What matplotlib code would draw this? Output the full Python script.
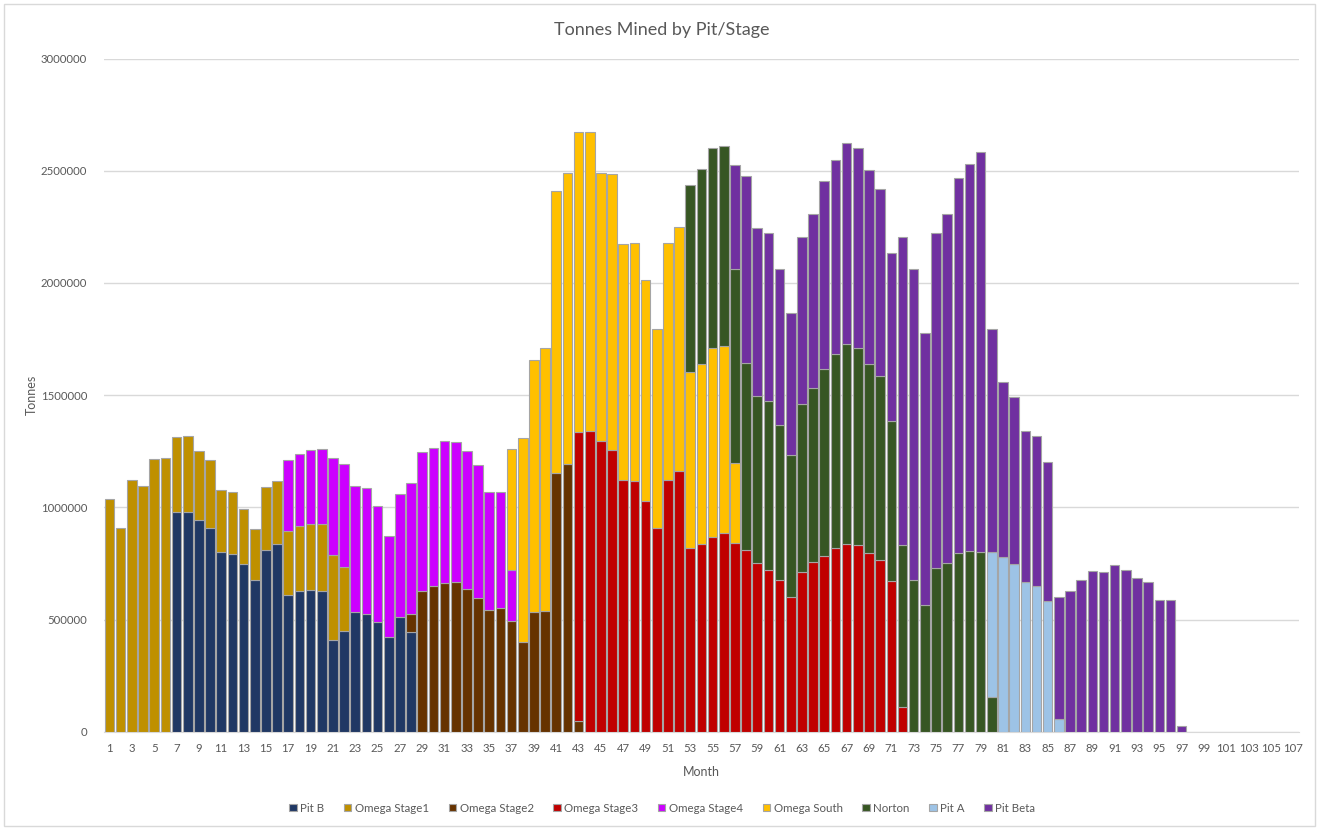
import numpy as np
import matplotlib.pyplot as plt
from matplotlib.patches import Rectangle

plt.rcParams['font.family'] = ['Lato', 'DejaVu Sans']

months = list(range(1, 108))

# each series: first month it appears, then tonnes per month from there
pit_b_start = 7
pit_b = [978000, 978000, 944000, 910000, 801000, 791000, 748000, 674000, 810000, 836000,
         610000, 625000, 630000, 625000, 410000, 450000, 533000, 523000, 489000, 424000,
         513000, 446000]

omega1_start = 1
omega1 = [1037000, 907000, 1120000, 1096000, 1215000, 1219000, 335000, 341000, 309000, 299000,
          276000, 276000, 246000, 231000, 282000, 281000, 285000, 291000, 296000, 301000,
          378000, 286000]

omega2_start = 28
omega2 = [77000, 627000, 648000, 663000, 668000, 638000, 598000, 544000, 553000, 494000,
          401000, 534000, 539000, 1151000, 1193000, 48000]

omega3_start = 43
omega3 = [1288000, 1338000, 1295000, 1254000, 1123000, 1117000, 1030000, 906000, 1121000, 1160000,
          817000, 838000, 867000, 886000, 840000, 810000, 752000, 722000, 678000, 601000,
          714000, 756000, 782000, 819000, 838000, 830000, 796000, 765000, 671000, 109000]

omega4_start = 17
omega4 = [314000, 323000, 330000, 336000, 430000, 458000, 562000, 561000, 517000, 450000,
          548000, 585000, 618000, 618000, 632000, 623000, 614000, 589000, 525000, 516000,
          226000]

omega_south_start = 37
omega_south = [541000, 906000, 1121000, 1169000, 1259000, 1298000, 1336000, 1334000, 1194000, 1230000,
               1049000, 1062000, 981000, 887000, 1058000, 1087000, 784000, 802000, 841000, 831000,
               358000]

norton_start = 53
norton = [834000, 867000, 892000, 892000, 862000, 833000, 744000, 751000, 691000, 631000,
          745000, 775000, 833000, 863000, 891000, 882000, 842000, 819000, 712000, 721000,
          678000, 564000, 728000, 750000, 796000, 805000, 800000, 155000]

pit_a_start = 80
pit_a = [645000, 777000, 747000, 668000, 648000, 584000, 57000]

pit_beta_start = 57
pit_beta = [465000, 834000, 750000, 748000, 691000, 633000, 747000, 775000, 837000, 865000,
            893000, 891000, 863000, 833000, 749000, 1376000, 1382000, 1211000, 1493000, 1556000,
            1672000, 1724000, 1784000, 994000, 780000, 746000, 673000, 670000, 620000, 544000,
            627000, 678000, 718000, 710000, 745000, 722000, 687000, 666000, 588000, 588000,
            24000]

series = [
    ("Pit B", pit_b_start, pit_b, "#203864"),
    ("Omega Stage1", omega1_start, omega1, "#BF9000"),
    ("Omega Stage2", omega2_start, omega2, "#663300"),
    ("Omega Stage3", omega3_start, omega3, "#C00000"),
    ("Omega Stage4", omega4_start, omega4, "#CC00FF"),
    ("Omega South", omega_south_start, omega_south, "#FFC000"),
    ("Norton", norton_start, norton, "#375623"),
    ("Pit A", pit_a_start, pit_a, "#9DC3E6"),
    ("Pit Beta", pit_beta_start, pit_beta, "#7030A0"),
]

grey = "#595959"

fig = plt.figure(figsize=(13.19, 8.30), dpi=100)
ax = fig.add_axes([0.0788, 0.1184, 0.9060, 0.8111])

x = np.array(months)
bottom = np.zeros(len(months))
for name, start, vals, col in series:
    full = np.zeros(len(months))
    full[start - 1:start - 1 + len(vals)] = vals
    keep = full > 0  # skip empty months so no stray edge lines show
    ax.bar(x[keep], full[keep], width=0.86, bottom=bottom[keep], color=col,
           edgecolor="#A5A5A5", linewidth=0.8, label=name, zorder=3)
    bottom += full

ax.set_xlim(0.5, 107.5)
ax.set_ylim(0, 3000000)
ax.set_yticks(np.arange(0, 3000001, 500000))
ax.set_yticklabels([str(v) for v in range(0, 3000001, 500000)])
ax.set_xticks(months[::2])
ax.set_xticklabels([str(m) for m in months[::2]])
ax.tick_params(axis='both', length=0, labelsize=8.2, colors=grey)
ax.tick_params(axis='x', pad=8)
ax.tick_params(axis='y', pad=12)
ax.grid(axis='y', color="#D9D9D9", linewidth=1, zorder=0)
for side in ['top', 'right', 'left']:
    ax.spines[side].set_visible(False)
ax.spines['bottom'].set_color("#D9D9D9")

ax.set_xlabel("Month", fontsize=9, color=grey, labelpad=9)
ax.set_ylabel("Tonnes", fontsize=9, color=grey, labelpad=2)

fig.text(0.502, 0.964, "Tonnes Mined by Pit/Stage", ha='center', va='center',
         fontsize=13, color=grey)

fig.legend(loc='center', bbox_to_anchor=(0.502, 0.0265), ncol=9, frameon=False,
           fontsize=8.3, handlelength=0.65, handleheight=0.65, handletextpad=0.3,
           columnspacing=1.7, labelcolor=grey)

fig.patches.append(Rectangle((0.003, 0.005), 0.994, 0.99, transform=fig.transFigure,
                             fill=False, edgecolor="#D9D9D9", linewidth=1))

fig.savefig("out.png", dpi=100)
